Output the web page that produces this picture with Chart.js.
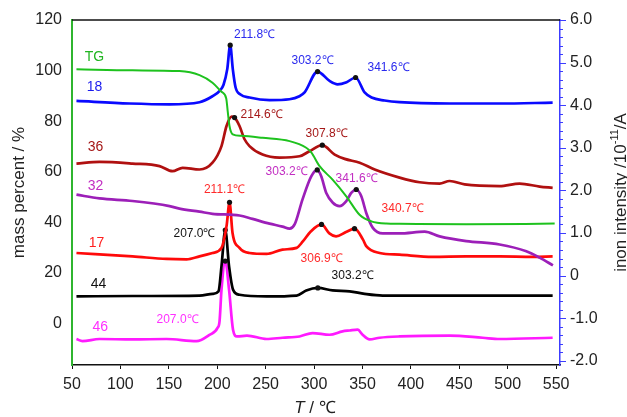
<!DOCTYPE html>
<html>
<head>
<meta charset="utf-8">
<script src="https://cdn.jsdelivr.net/npm/chart.js@4.4.1/dist/chart.umd.min.js"></script>
<style>
  html, body { margin: 0; padding: 0; background: #fff; }
  #box { width: 627px; height: 417px; }
</style>
</head>
<body>
<div id="box"><canvas id="tgms"></canvas></div>
<script>
// TG curve (left axis, mass %)
const tTG = [54.6, 112.5, 161, 181.7, 195.1, 204.4, 209.3, 210.8, 212.7, 216, 224.8, 246.8, 274.7, 291.9, 297.1, 305.7, 319.1, 333.3, 347, 359.1, 374.6, 388.3, 457.2, 548.5];
const massTG = [100.5, 100.1, 99.8, 98.2, 95.2, 91.6, 89.0, 84.0, 78.0, 74.8, 74.2, 73.4, 72.1, 69.5, 67.7, 62.2, 56.9, 50.3, 43.0, 40.4, 39.5, 39.4, 39.2, 39.5];

// ion curves (right axis, 10^-11 A, with the offsets of the figure)
const t18 = [54.6, 109.4, 150.7, 181.7, 195.1, 203, 206.5, 210.3, 213.4, 216.1, 218.9, 224, 233.3, 254, 274.6, 284.9, 290.2, 303.6, 316, 324.3, 333.6, 342.9, 352.2, 359.4, 372.8, 388.3, 440, 491.6, 546.4];
const ion18 = [4.10, 4.04, 4.02, 4.07, 4.21, 4.35, 4.48, 4.84, 5.41, 4.84, 4.42, 4.25, 4.18, 4.12, 4.14, 4.21, 4.30, 4.79, 4.57, 4.49, 4.54, 4.65, 4.30, 4.18, 4.11, 4.07, 4.04, 4.04, 4.06];

const t36 = [54.6, 78.4, 112.5, 140.4, 153.8, 164.2, 181.7, 195.1, 204.4, 209.6, 214.8, 217.9, 223, 228.2, 233.3, 246.8, 264.3, 285, 295.3, 308.5, 321.3, 331.6, 347.1, 362.6, 388.3, 409, 429.7, 440, 455.5, 491.6, 512.3, 533, 546.4];
const ion36 = [2.63, 2.67, 2.63, 2.57, 2.45, 2.53, 2.49, 2.65, 3.04, 3.51, 3.73, 3.71, 3.51, 3.20, 3.04, 2.84, 2.77, 2.80, 2.92, 3.06, 2.84, 2.74, 2.65, 2.49, 2.30, 2.19, 2.16, 2.22, 2.14, 2.10, 2.16, 2.09, 2.06];

const t32 = [54.6, 78.4, 112.5, 150.7, 161, 181.7, 195.1, 223, 236.4, 254, 267.4, 274.7, 279.9, 288.1, 297.1, 303.3, 307.4, 312.6, 319.4, 326.3, 333.3, 338.4, 343.6, 348.8, 353.9, 360.7, 371, 388.3, 414.2, 429.7, 457.2, 491.6, 519.2, 533, 546.7];
const ion32 = [1.90, 1.81, 1.75, 1.63, 1.57, 1.50, 1.45, 1.41, 1.33, 1.22, 1.15, 1.10, 1.20, 1.79, 2.33, 2.48, 2.33, 1.94, 1.71, 1.63, 1.75, 1.94, 2.02, 1.86, 1.47, 1.12, 0.99, 0.99, 1.03, 0.92, 0.81, 0.73, 0.57, 0.42, 0.24];

const t17 = [54.6, 112.5, 147.6, 168.3, 181.7, 195.1, 204.4, 209.6, 212.7, 215.8, 223, 233.3, 251, 267.4, 282, 288.4, 296.8, 307.7, 315.8, 322.7, 333, 341.8, 350.4, 353.9, 367.7, 388.3, 422.4, 457.2, 491.6, 525.7, 546.4];
const ion17 = [0.53, 0.45, 0.39, 0.38, 0.45, 0.53, 0.65, 1.16, 1.72, 1.00, 0.65, 0.53, 0.51, 0.61, 0.65, 0.80, 1.04, 1.20, 0.99, 0.92, 1.02, 1.10, 0.85, 0.69, 0.53, 0.49, 0.44, 0.45, 0.45, 0.44, 0.45];

const t44 = [54.6, 112.5, 181.7, 195.1, 201.3, 204.4, 208.3, 212.2, 216.3, 223, 251, 282, 291.9, 303.9, 319.1, 336.7, 352.2, 370.8, 546.4];
const ion44 = [-0.49, -0.48, -0.47, -0.43, -0.37, 0.22, 1.07, 0.22, -0.33, -0.45, -0.49, -0.47, -0.35, -0.29, -0.35, -0.37, -0.43, -0.47, -0.47];

const t46 = [54.6, 60.8, 78.4, 112.5, 147.6, 178.6, 192, 200.3, 202.4, 204.4, 208.3, 212.2, 216.3, 220.4, 230.7, 251, 267.4, 285, 298.4, 316, 329.4, 336.7, 345, 350.1, 357.3, 367.7, 388.3, 440, 474.1, 491.6, 546.4];
const ion46 = [-1.49, -1.54, -1.49, -1.50, -1.49, -1.54, -1.39, -1.23, -1.07, -0.33, 0.34, -0.33, -1.27, -1.43, -1.41, -1.49, -1.46, -1.43, -1.35, -1.39, -1.31, -1.29, -1.27, -1.39, -1.50, -1.46, -1.43, -1.41, -1.46, -1.49, -1.46];

// marked peaks (temperatures of points in the arrays above)
const pk18 = [213.4, 303.6, 342.9];
const pk36 = [217.9, 308.5];
const pk32 = [303.3, 343.6];
const pk17 = [212.7, 307.7, 341.8];
const pk44 = [208.3, 303.9];
const pk46 = [208.3];

// texts on the plot: [text, temperature, ion value, colour]
const notes = [
  ["TG", 73.2, 5.12, "#22b522"],
  ["18", 73.2, 4.42, "#1a1aee"],
  ["36", 74.3, 3.01, "#a51818"],
  ["32", 74.3, 2.09, "#c22ec2"],
  ["17", 75.3, 0.77, "#ff2020"],
  ["44", 77.4, -0.19, "#111111"],
  ["46", 79.1, -1.22, "#ff30ff"],
  ["211.8℃", 238.5, 5.66, "#2a2aee"],
  ["303.2℃", 298.4, 5.05, "#2a2aee"],
  ["341.6℃", 376.9, 4.89, "#2a2aee"],
  ["214.6℃", 245.8, 3.78, "#a51818"],
  ["307.8℃", 312.9, 3.34, "#a51818"],
  ["303.2℃", 271.6, 2.45, "#c22ec2"],
  ["341.6℃", 343.9, 2.28, "#c22ec2"],
  ["340.7℃", 391.4, 1.58, "#ff2a2a"],
  ["211.1℃", 207.5, 2.02, "#ff2a2a"],
  ["207.0℃", 176.5, 0.99, "#111111"],
  ["306.9℃", 307.8, 0.40, "#ff2a2a"],
  ["303.2℃", 339.8, 0.0, "#111111"],
  ["207.0℃", 159, -1.03, "#ff30ff"]
];

const REG = "'Liberation Sans', Arial, sans-serif";

function pts(t, v) {
  return t.map(function (x, i) { return { x: x, y: v[i] }; });
}

function curve(label, t, v, color, axis, peaks, width) {
  return {
    label: label,
    data: pts(t, v),
    yAxisID: axis,
    borderColor: color,
    borderWidth: width,
    cubicInterpolationMode: "monotone",
    pointRadius: function (c) {
      return peaks.indexOf(t[c.dataIndex]) >= 0 ? 2.6 : 0;
    },
    pointBackgroundColor: "#111",
    pointBorderWidth: 0,
    fill: false
  };
}

const decor = {
  id: "decor",
  afterDatasetsDraw: function (chart) {
    const ctx = chart.ctx;
    const a = chart.chartArea;
    const xs = chart.scales.x, ys = chart.scales.y1;
    ctx.save();
    // top frame line
    ctx.strokeStyle = "#111";
    ctx.lineWidth = 1.5;
    ctx.beginPath();
    ctx.moveTo(a.left, a.top);
    ctx.lineTo(a.right, a.top);
    ctx.stroke();
    // right axis ticks
    ctx.strokeStyle = "#3c3cff";
    ctx.lineWidth = 1;
    for (let k = -10; k <= 30; k++) {
      const y = Math.round(ys.getPixelForValue(k / 5)) + 0.5;
      const len = k % 5 === 0 ? 6 : 3;
      ctx.beginPath();
      ctx.moveTo(a.right, y);
      ctx.lineTo(a.right + len, y);
      ctx.stroke();
    }
    // notes
    ctx.textAlign = "center";
    ctx.textBaseline = "middle";
    notes.forEach(function (n) {
      ctx.font = (n[0].indexOf("℃") >= 0 ? "12px " : "14px ") + REG;
      ctx.fillStyle = n[3];
      ctx.fillText(n[0], xs.getPixelForValue(n[1]), ys.getPixelForValue(n[2]));
    });
    // axis titles
    const mid = (a.top + a.bottom) / 2;
    ctx.fillStyle = "#222";
    ctx.save();
    ctx.translate(19, mid);
    ctx.rotate(-Math.PI / 2);
    ctx.font = "17px " + REG;
    ctx.fillText("mass percent / %", 0, 0);
    ctx.restore();

    ctx.save();
    ctx.translate(621, mid);
    ctx.rotate(-Math.PI / 2);
    ctx.textAlign = "left";
    ctx.font = "17px " + REG;
    const p1 = "inon intensity /10", p3 = "/A";
    const w1 = ctx.measureText(p1).width, w3 = ctx.measureText(p3).width;
    ctx.font = "11px " + REG;
    const w2 = ctx.measureText("-11").width;
    let x0 = -(w1 + w2 + w3) / 2;
    ctx.font = "17px " + REG;
    ctx.fillText(p1, x0, 0);
    ctx.font = "11px " + REG;
    ctx.fillText("-11", x0 + w1, -6);
    ctx.font = "17px " + REG;
    ctx.fillText(p3, x0 + w1 + w2, 0);
    ctx.restore();

    ctx.textAlign = "left";
    ctx.font = "italic 17px " + REG;
    const wt = ctx.measureText("T").width;
    ctx.font = "17px " + REG;
    const wr = ctx.measureText(" / ℃").width;
    const bx = 315 - (wt + wr) / 2;
    ctx.font = "italic 17px " + REG;
    ctx.fillText("T", bx, 408);
    ctx.font = "17px " + REG;
    ctx.fillText(" / ℃", bx + wt, 408);
    ctx.restore();
  }
};

const tickFont = { family: REG, size: 16 };

new Chart(document.getElementById("tgms"), {
  type: "line",
  data: {
    datasets: [
      curve("TG", tTG, massTG, "#1ec21e", "y", [], 2),
      curve("18", t18, ion18, "#0a0aff", "y1", pk18, 2.7),
      curve("36", t36, ion36, "#b01010", "y1", pk36, 2.7),
      curve("32", t32, ion32, "#9c1fb8", "y1", pk32, 2.7),
      curve("17", t17, ion17, "#ff0a0a", "y1", pk17, 2.7),
      curve("44", t44, ion44, "#000000", "y1", pk44, 2.7),
      curve("46", t46, ion46, "#ff1aff", "y1", pk46, 2.7)
    ]
  },
  options: {
    responsive: true,
    maintainAspectRatio: false,
    animation: false,
    layout: { padding: { top: 20, left: 0, right: 0, bottom: 0 } },
    plugins: {
      legend: { display: false },
      tooltip: { enabled: false }
    },
    scales: {
      x: {
        type: "linear",
        position: "bottom",
        min: 50,
        max: 554,
        ticks: { stepSize: 50, includeBounds: false, maxRotation: 0, padding: 6, color: "#222", font: tickFont },
        grid: { display: true, drawOnChartArea: false, drawTicks: true, tickLength: 4, color: "#111" },
        border: { color: "#111", width: 1.5 },
        afterFit: function (s) { s.height = 52; }
      },
      y: {
        position: "left",
        min: -16.4,
        max: 120,
        ticks: { stepSize: 20, includeBounds: false, padding: 10, color: "#222", font: tickFont },
        grid: { display: false, drawTicks: false },
        border: { color: "#2fb52f", width: 2 },
        afterFit: function (s) { s.width = 72; }
      },
      y1: {
        position: "right",
        min: -2.1,
        max: 6,
        ticks: {
          stepSize: 1,
          includeBounds: false,
          padding: 10,
          color: "#222",
          font: tickFont,
          callback: function (v) { return v === 0 ? "0" : v.toFixed(1); }
        },
        grid: { display: false, drawTicks: false },
        border: { color: "#3c3cff", width: 1.5 },
        afterFit: function (s) { s.width = 67; }
      }
    }
  },
  plugins: [decor]
});
</script>
</body>
</html>
